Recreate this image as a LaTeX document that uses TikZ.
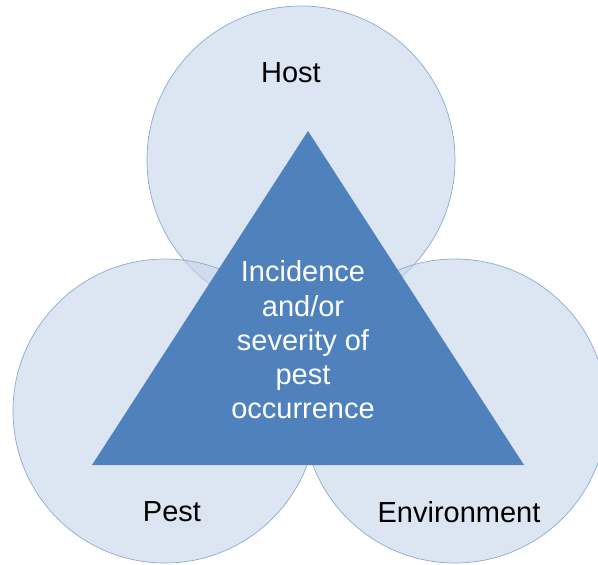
\documentclass[tikz,border=0pt]{standalone}
\usepackage{fontspec}
\setmainfont{Liberation Sans}
\definecolor{circfill}{RGB}{197,213,233}
\definecolor{circline}{RGB}{140,168,210}
\definecolor{tri}{RGB}{79,129,189}
\begin{document}
\begin{tikzpicture}[x=1pt,y=-1pt,
  circ/.style={circle,draw=circline,line width=0.7pt,fill=circfill,fill opacity=0.6,draw opacity=1,inner sep=0pt,minimum size=#1},
  lbl/.style={font=\fontsize{29}{34}\selectfont,text=black},
  inner/.style={font=\fontsize{29}{34.3}\selectfont,text=white,align=center}]
\useasboundingbox (0,0) rectangle (598,565);
\node[circ=308pt] (host) at (301,160) {};
\node[circ=304pt] (pest) at (165,411) {};
\node[circ=304pt] (env) at (455,411) {};
\coordinate (apex) at (308,131);
\coordinate (bl) at (92,465);
\coordinate (br) at (524,465);
\fill[tri] (apex) -- (bl) -- (br) -- cycle;
\node[lbl] (hostt) at (291,73) {Host};
\node[lbl] (pestt) at (172,512) {Pest};
\node[lbl] (envt) at (459,512) {Environment};
\node[inner] (center) at (303,340) {Incidence\\and/or\\severity of\\pest\\occurrence};
\end{tikzpicture}
\end{document}
